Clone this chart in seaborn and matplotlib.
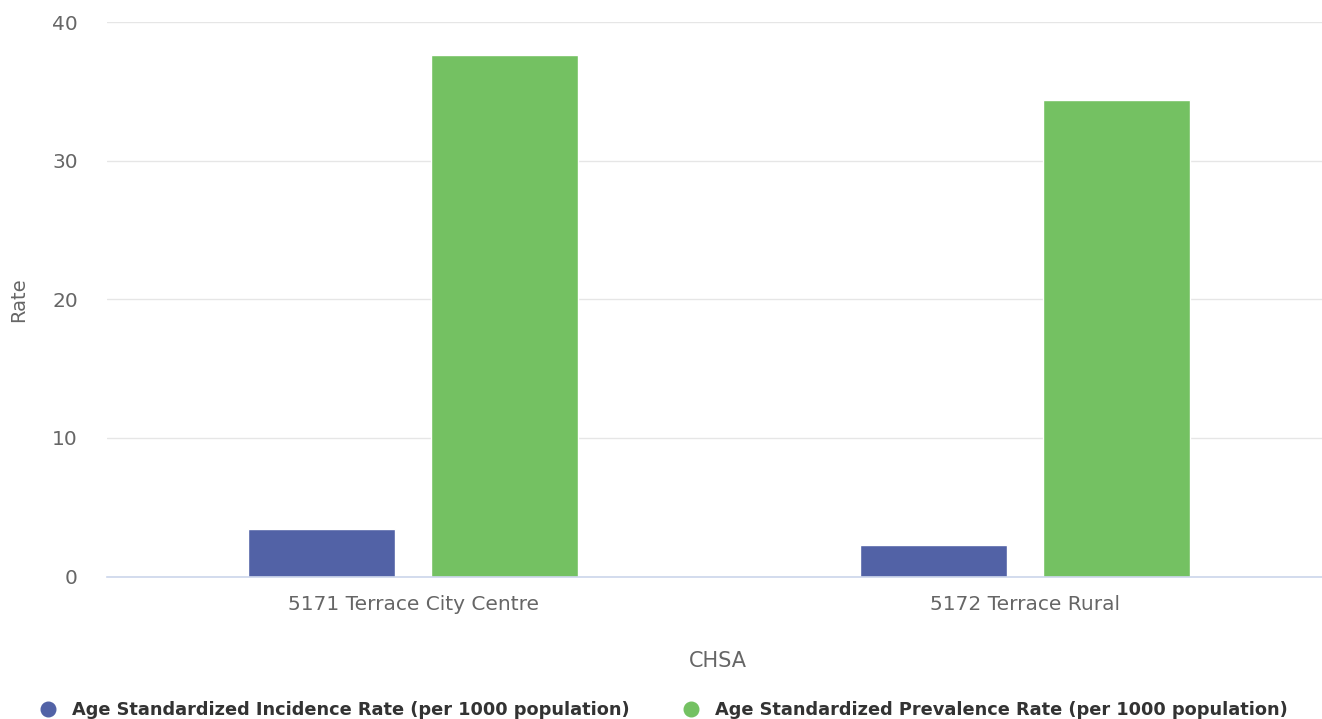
import pandas as pd
import matplotlib.pyplot as plt
import seaborn as sns
from matplotlib.lines import Line2D

# === DATA ===
chsa = ["5171 Terrace City Centre", "5172 Terrace Rural"]
series = ["Age Standardized Incidence Rate (per 1000 population)",
          "Age Standardized Prevalence Rate (per 1000 population)"]
incidence = [3.45, 2.24]
prevalence = [37.6, 34.4]
colors = ["#5262A6", "#74C162"]

df = pd.DataFrame({
    "CHSA": chsa * 2,
    "Series": [series[0]] * 2 + [series[1]] * 2,
    "Rate": incidence + prevalence,
})

sns.set_style("white")
plt.rcParams["font.family"] = ["DejaVu Sans"]

W, H = 1322, 719
fig = plt.figure(figsize=(W / 100, H / 100), dpi=100)
# plot area runs a little past the right edge, like the original
ax = fig.add_axes([107 / W, 1 - 576.5 / H, 1224 / W, (576.5 - 22) / H])

sns.barplot(data=df, x="CHSA", y="Rate", hue="Series", palette=colors,
            width=0.598, gap=0.197, ax=ax, legend=False, saturation=1)

ax.set_ylim(0, 40)
ax.set_yticks([0, 10, 20, 30, 40])
ax.yaxis.grid(True, color="#e6e6e6", linewidth=1)
ax.set_axisbelow(True)
for s in ["top", "right", "left"]:
    ax.spines[s].set_visible(False)
ax.spines["bottom"].set_color("#ccd6eb")
ax.spines["bottom"].set_linewidth(1.2)
ax.tick_params(axis="y", length=0, pad=21, labelsize=14.5, labelcolor="#666666")
ax.tick_params(axis="x", length=0, pad=13.5, labelsize=14.5, labelcolor="#666666")
ax.set_ylabel("")
ax.set_xlabel("")

fig.text(19 / W, 1 - 300 / H, "Rate", rotation=90, ha="center", va="center",
         fontsize=14, color="#666666")
fig.text(718 / W, 1 - 661 / H, "CHSA", ha="center", va="center",
         fontsize=15, color="#666666")

handles = [Line2D([0], [0], marker="o", linestyle="", markersize=10.5,
                  markerfacecolor=c, markeredgecolor=c) for c in colors]
fig.legend(handles, series, loc="lower left", ncol=2, frameon=False,
           bbox_to_anchor=(0.0105, -0.022), handletextpad=0.35,
           columnspacing=2.45, labelcolor="#333333",
           prop={"weight": "bold", "size": 12.8})

fig.savefig("out.png", dpi=100)
